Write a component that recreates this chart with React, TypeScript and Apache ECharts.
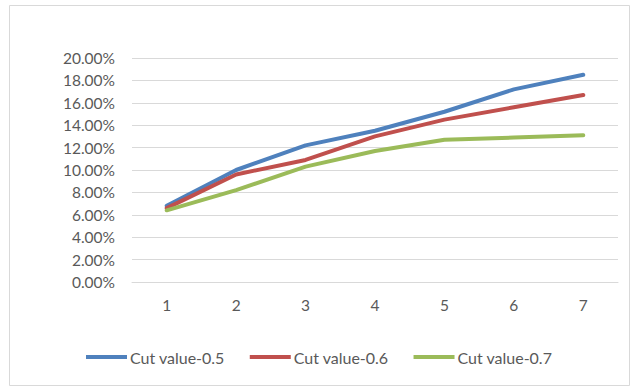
import React, { useEffect, useRef } from "react";
import * as echarts from "echarts";

const categories = ["1", "2", "3", "4", "5", "6", "7"];
const cut05 = [0.068, 0.1, 0.122, 0.135, 0.152, 0.172, 0.185];
const cut06 = [0.066, 0.096, 0.109, 0.13, 0.145, 0.156, 0.167];
const cut07 = [0.064, 0.082, 0.103, 0.117, 0.127, 0.129, 0.131];
const seriesNames = ["Cut value-0.5", "Cut value-0.6", "Cut value-0.7"];
const colors = ["#4F81BD", "#C0504D", "#9BBB59"];

const FONT = "Lato, 'Liberation Sans', sans-serif";

export default function App() {
  const ref = useRef<HTMLDivElement>(null);
  useEffect(() => {
    if (!ref.current) return;
    const chart = echarts.init(ref.current, null, { renderer: "svg" });
    const data = [cut05, cut06, cut07];
    chart.setOption({
      animation: false,
      backgroundColor: "#ffffff",
      textStyle: { fontFamily: FONT },
      graphic: [
        {
          type: "rect",
          shape: { x: 9.5, y: 5.5, width: 620, height: 380 },
          style: { fill: "none", stroke: "#d9d9d9", lineWidth: 1 },
          silent: true,
        },
      ],
      grid: { left: 132, right: 16, top: 58, bottom: 105, containLabel: false },
      xAxis: {
        type: "category",
        data: categories,
        boundaryGap: true,
        axisLine: { show: true, lineStyle: { color: "#d9d9d9", width: 1 } },
        axisTick: { show: false },
        axisLabel: { color: "#595959", fontSize: 15.5, margin: 15, fontFamily: FONT },
      },
      yAxis: {
        type: "value",
        min: 0,
        max: 0.2,
        interval: 0.02,
        axisLine: { show: false },
        axisTick: { show: false },
        splitLine: { lineStyle: { color: "#d9d9d9", width: 1 } },
        axisLabel: {
          color: "#595959",
          fontSize: 15.5,
          margin: 17,
          fontFamily: FONT,
          formatter: (v: number) => (v * 100).toFixed(2) + "%",
        },
      },
      legend: {
        bottom: 22,
        left: 86,
        padding: 0,
        itemWidth: 41,
        itemHeight: 4,
        itemGap: 25,
        icon: "rect",
        textStyle: { color: "#595959", fontSize: 16, fontFamily: FONT, padding: [0, 0, 0, -2] },
        data: seriesNames,
      },
      series: seriesNames.map((name, i) => ({
        name,
        type: "line",
        data: data[i],
        symbol: "none",
        smooth: false,
        lineStyle: { color: colors[i], width: 4, cap: "round", join: "round" },
        itemStyle: { color: colors[i] },
      })),
    });
    return () => chart.dispose();
  }, []);
  return (
    <div
      ref={ref}
      style={{ position: "absolute", left: 0, top: 0, width: 634, height: 387 }}
    />
  );
}
